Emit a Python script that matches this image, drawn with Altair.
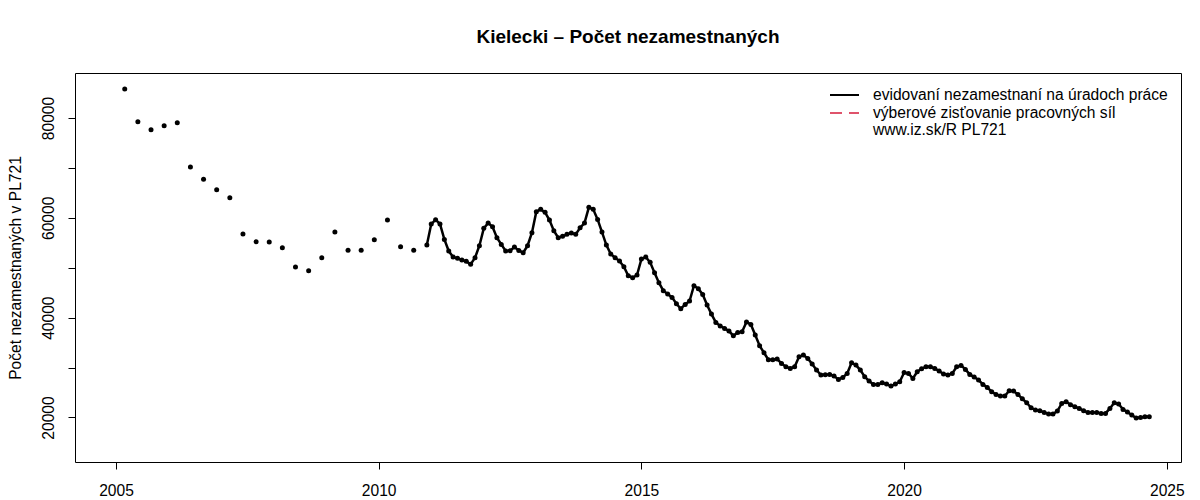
import altair as alt
import pandas as pd

# ---- data ----
# quarterly observations (Mar, Jun, Sep, Dec) from March 2005 to September 2010
quarterly_start = (2005, 3)
quarterly_values = [
    85800, 79260, 77660, 78460,
    79060, 70180, 67720, 65630,
    64030, 56750, 55210, 55150,
    54010, 50140, 49400, 52000,
    57150, 53490, 53490, 55610,
    59560, 54210, 53490,
]

# monthly observations from December 2010 to September 2024
monthly_start = (2010, 12)
monthly_values = [
    54550, 58760, 59630, 58760, 55680, 53350, 52140, 51880, 51540, 51280, 50680, 52010,
    54420, 57890, 58960, 58220, 56020, 54680, 53350, 53410, 54150, 53480, 53010, 54420,
    57020, 61230, 61700, 61100, 59560, 57420, 56020, 56290, 56690, 56950, 56690, 58020,
    58960, 62100, 61700, 59690, 57150, 54550, 52750, 52010, 51340, 50210, 48400, 48000,
    48540, 51740, 52140, 51080, 49000, 47000, 45400, 44730, 44060, 42790, 41790, 42660,
    43330, 46400, 45800, 44660, 42530, 40720, 39050, 38320, 37850, 37310, 36380, 37050,
    37180, 39120, 38650, 36510, 34380, 32970, 31570, 31570, 31700, 30840, 30170, 29830,
    30170, 32170, 32500, 31840, 30700, 29500, 28500, 28560, 28630, 28300, 27630, 28030,
    28830, 30970, 30500, 29500, 28160, 27300, 26630, 26630, 26960, 26690, 26290, 26690,
    27160, 29000, 28830, 27830, 29170, 29770, 30170, 30170, 29830, 29300, 28700, 28500,
    28830, 30170, 30430, 29630, 28630, 28100, 27500, 26630, 26030, 25160, 24620, 24290,
    24290, 25360, 25290, 24620, 23750, 22950, 21950, 21480, 21350, 21020, 20680, 20680,
    21280, 22820, 23150, 22550, 22150, 21820, 21350, 21020, 21020, 21020, 20820, 20820,
    21820, 22950, 22690, 21620, 21080, 20480, 19880, 20010, 20150, 20150,
]

x_ticks = [2005, 2010, 2015, 2020, 2025]
y_ticks = [20000, 30000, 40000, 50000, 60000, 70000, 80000]

title_text = "Kielecki – Počet nezamestnaných"
y_title = "Počet nezamestnaných v PL721"
legend_labels = [
    "evidovaní nezamestnaní na úradoch práce",
    "výberové zisťovanie pracovných síl",
    "www.iz.sk/R PL721",
]


def times(start, step, n):
    y0, m0 = start
    return [y0 + ((m0 - 1) + i * step) / 12 for i in range(n)]


df_q = pd.DataFrame({"t": times(quarterly_start, 3, len(quarterly_values)), "v": quarterly_values})
df_m = pd.DataFrame({"t": times(monthly_start, 1, len(monthly_values)), "v": monthly_values})
df_all = pd.concat([df_q, df_m], ignore_index=True)

FONT = "Liberation Sans"
FS = 15.6

x_enc = alt.X(
    "t:Q",
    scale=alt.Scale(domain=[2004.22, 2025.27], nice=False, zero=False),
    axis=alt.Axis(
        values=x_ticks, format="d", title=None, grid=False, domain=False,
        tickSize=7, tickColor="black", labelColor="black", labelFontSize=FS,
        labelFont=FONT, labelPadding=14, labelFlush=False,
    ),
)
y_enc = alt.Y(
    "v:Q",
    scale=alt.Scale(domain=[11082, 89018], nice=False, zero=False),
    axis=alt.Axis(
        values=y_ticks,
        labelExpr="datum.value % 20000 == 0 ? '' + datum.value : ''",
        title=y_title, grid=False, domain=False,
        tickSize=7, tickColor="black", labelColor="black", labelFontSize=FS,
        labelFont=FONT, labelAngle=-90, labelAlign="center", labelBaseline="alphabetic",
        labelPadding=15,
        titleFont=FONT, titleFontSize=FS, titleFontWeight="normal", titleColor="black",
        titleX=-55, titleY=194.5, titleAlign="center", titleBaseline="alphabetic",
        titleAngle=270,
    ),
)

points = alt.Chart(df_all).mark_circle(size=25, color="black", opacity=1).encode(x=x_enc, y=y_enc)
line = alt.Chart(df_m).mark_line(color="black", strokeWidth=2.5).encode(x=x_enc, y=y_enc)

one = alt.Data(values=[{}])
leg1 = alt.Chart(one).mark_rule(color="black", strokeWidth=2).encode(
    x=alt.value(755), x2=alt.value(784), y=alt.value(22))
leg2 = alt.Chart(one).mark_rule(color="#DF536B", strokeWidth=2, strokeDash=[12, 7]).encode(
    x=alt.value(755), x2=alt.value(784), y=alt.value(40))
texts = [
    alt.Chart(one).mark_text(text=lab, align="left", baseline="middle", fontSize=FS,
                             font=FONT, color="black").encode(x=alt.value(798), y=alt.value(yy))
    for lab, yy in zip(legend_labels, [22, 40, 57])
]

chart = alt.layer(line, points, leg1, leg2, *texts).properties(
    width=1106,
    height=389,
    autosize=alt.AutoSizeParams(type="none"),
    padding={"left": 67, "top": 65, "right": 10, "bottom": 40},
    title=alt.TitleParams(
        title_text, fontSize=19, fontWeight="bold", font=FONT, anchor="middle",
        baseline="alphabetic", offset=11, color="black",
    ),
    background="white",
).configure_view(stroke="black", strokeWidth=1)

chart.save("out.html", embed_options={"renderer": "svg", "actions": False})
